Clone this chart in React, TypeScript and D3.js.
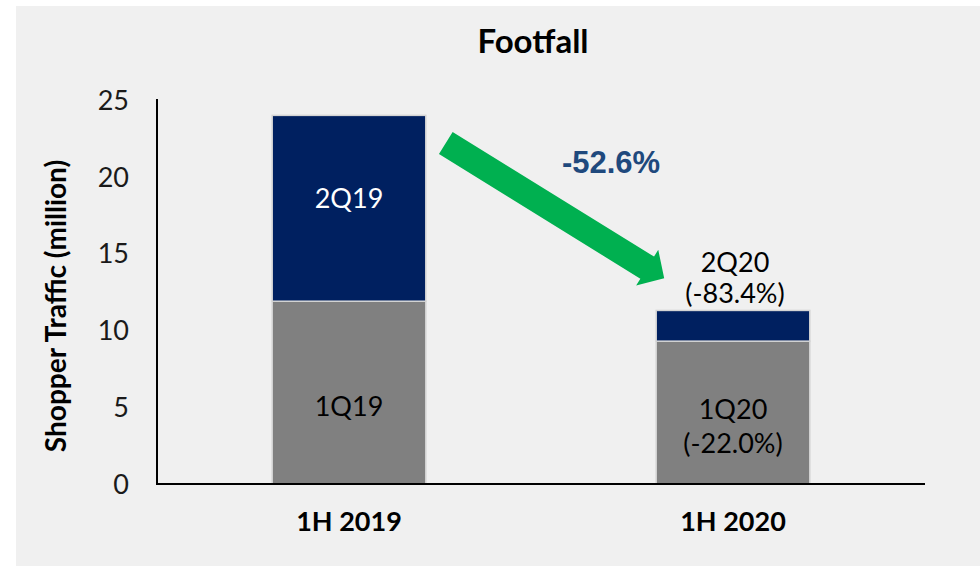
import React from "react";
import * as d3 from "d3";

const categories = ["1H 2019", "1H 2020"];
const q1Values = [11.9, 9.3];
const q2Values = [12.1, 2.0];
const q1Labels = [["1Q19"], ["1Q20", "(-22.0%)"]];
const q2Labels = [["2Q19"], ["2Q20", "(-83.4%)"]];
const yTicks = [0, 5, 10, 15, 20, 25];
const changeLabel = "-52.6%";

const W = 980;
const H = 566;
const FONT = "Lato, 'Noto Sans', sans-serif";

export default function App() {
  const x = d3.scaleBand<string>().domain(categories).range([157, 925]).padding(0);
  const y = d3.scaleLinear().domain([0, 25]).range([484, 100]);
  const bw = x.bandwidth() * 0.4;
  const cx = (c: string) => (x(c) as number) + x.bandwidth() / 2;

  // arrow from above bar 1 to above bar 2
  const tail: [number, number] = [cx(categories[0]) + bw / 2 + 20, y(22.2)];
  const tip: [number, number] = [cx(categories[1]) - bw / 2 + 8, y(13.4)];
  const dx = tip[0] - tail[0];
  const dy = tip[1] - tail[1];
  const L = Math.hypot(dx, dy);
  const ang = (Math.atan2(dy, dx) * 180) / Math.PI;
  const sw = 13, hw = 21, hl = 20;
  const arrowPts: [number, number][] = [
    [0, -sw], [L - hl, -sw], [L - hl, -hw], [L, 0], [L - hl, hw], [L - hl, sw], [0, sw],
  ];
  const arrowPath = d3.line()(arrowPts) + "Z";

  return (
    <svg width={W} height={H} style={{ display: "block", position: "absolute", left: 0, top: 0 }}>
      <rect x={0} y={0} width={W} height={H} fill="#ffffff" />
      <rect x={16} y={6} width={W - 16} height={H - 6} fill="#f0f0f0" />
      <text x={533} y={53} textAnchor="middle" fontFamily={FONT} fontWeight="bold" fontSize={33} fill="#000">
        Footfall
      </text>
      {/* y tick labels */}
      {yTicks.map((t) => (
        <text key={t} x={129} y={y(t)} dy="0.36em" textAnchor="end" fontFamily={FONT} fontSize={27} fill="#1a1a1a">
          {t}
        </text>
      ))}
      <text
        transform={`translate(56,306) rotate(-90)`}
        textAnchor="middle"
        dy="0.36em"
        fontFamily={FONT}
        fontWeight="bold"
        fontSize={28}
        fill="#000"
      >
        Shopper Traffic (million)
      </text>
      {/* bars */}
      {categories.map((c, i) => {
        const x0 = cx(c) - bw / 2;
        const q1 = q1Values[i];
        const q2 = q2Values[i];
        return (
          <g key={c}>
            <rect x={x0} y={y(q1)} width={bw} height={y(0) - y(q1)} fill="#808080" stroke="#d4d4d4" strokeWidth={1.5} />
            <rect x={x0} y={y(q1 + q2)} width={bw} height={y(q1) - y(q1 + q2)} fill="#002060" stroke="#d4d4d4" strokeWidth={1.5} />
          </g>
        );
      })}
      {/* axes */}
      <line x1={157} x2={157} y1={y(25) - 1} y2={y(0)} stroke="#000" strokeWidth={2} />
      <line x1={156} x2={925} y1={y(0)} y2={y(0)} stroke="#000" strokeWidth={2} />
      {categories.map((c) => (
        <text key={c} x={cx(c)} y={531} textAnchor="middle" fontFamily={FONT} fontWeight="bold" fontSize={27} fill="#000">
          {c}
        </text>
      ))}
      {/* segment labels */}
      {categories.map((c, i) => {
        const lines = q1Labels[i];
        const mid = (y(0) + y(q1Values[i])) / 2 + 14;
        return (
          <text key={"l1" + c} x={cx(c)} textAnchor="middle" fontFamily={FONT} fontSize={27} fill="#000">
            {lines.map((s, k) => (
              <tspan key={k} x={cx(c)} y={mid + (k - (lines.length - 1) / 2) * 34} dy="0.36em">
                {s}
              </tspan>
            ))}
          </text>
        );
      })}
      <text x={cx(categories[0])} y={(y(q1Values[0]) + y(q1Values[0] + q2Values[0])) / 2 - 10} dy="0.36em" textAnchor="middle" fontFamily={FONT} fontSize={27} fill="#fff">
        {q2Labels[0][0]}
      </text>
      <text textAnchor="middle" fontFamily={FONT} fontSize={27} fill="#000">
        {q2Labels[1].map((s, k) => (
          <tspan key={k} x={cx(categories[1]) + 2} y={y(q1Values[1] + q2Values[1]) - 48 + k * 31} dy="0.36em">
            {s}
          </tspan>
        ))}
      </text>
      {/* arrow */}
      <path d={arrowPath} transform={`translate(${tail[0]},${tail[1]}) rotate(${ang})`} fill="#00b050" />
      <text x={611} y={162} dy="0.36em" textAnchor="middle" fontFamily="'Liberation Sans', Arial, sans-serif" fontWeight="bold" fontSize={31} fill="#1f497d">
        {changeLabel}
      </text>
    </svg>
  );
}
